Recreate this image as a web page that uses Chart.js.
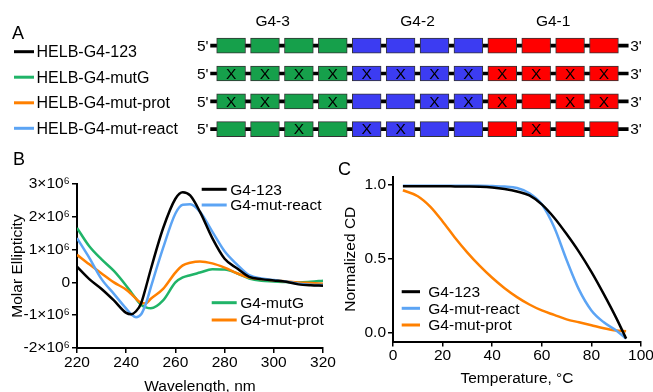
<!DOCTYPE html>
<html>
<head>
<meta charset="utf-8">
<script src="https://cdn.jsdelivr.net/npm/chart.js@4.4.0/dist/chart.umd.min.js"></script>
<style>
  body { margin: 0; background: #fff; overflow: hidden; width: 653px; height: 392px; position: relative; font-family: 'Liberation Sans', Arial, sans-serif; }
  canvas { position: absolute; }
  .tag { position: absolute; font-size: 18px; line-height: 1; color: #000; }
</style>
</head>
<body>
<canvas id="schemeA" width="653" height="143" style="left:0px;top:0px"></canvas>
<canvas id="cdB" width="345" height="260" style="left:0px;top:140px"></canvas>
<canvas id="meltC" width="330" height="252" style="left:330px;top:140px"></canvas>
<div class="tag" style="left:12px;top:24px">A</div>
<div class="tag" style="left:13px;top:150px">B</div>
<div class="tag" style="left:338px;top:160px">C</div>
<script>
const FONT = "'Liberation Sans', Arial, sans-serif"
Chart.defaults.font.family = FONT
Chart.defaults.color = '#000'

// ---- panel A: constructs
const constructs = ['HELB-G4-123', 'HELB-G4-mutG', 'HELB-G4-mut-prot', 'HELB-G4-mut-react']
const constructColors = ['#000000', '#20b468', '#ff8000', '#5ca4f4']
const groups = ['G4-3', 'G4-2', 'G4-1']
const groupColors = ['#16a04b', '#3c3cf2', '#ff0000']
const groupHeaderPos = [1.65, 5.925, 9.925]
const boxStart = [0, 1, 2, 3, 4, 5, 6, 7, 8, 9, 10, 11]
const boxLen = 0.85
const backbone = [-0.18, 12.14]
// 1 = mutated G-tract (X), 5' -> 3'
const mut123 = [0, 0, 0, 0, 0, 0, 0, 0, 0, 0, 0, 0]
const mutG = [1, 1, 1, 1, 1, 1, 1, 1, 1, 1, 1, 1]
const mutProt = [1, 1, 0, 1, 0, 0, 1, 1, 1, 0, 1, 1]
const mutReact = [0, 0, 1, 0, 1, 1, 0, 0, 0, 1, 0, 0]
const mutations = [mut123, mutG, mutProt, mutReact]

// ---- panel B: CD spectra (x10^6)
const wavelength = [220, 225, 230, 235, 240, 242, 244, 246, 248, 250, 255, 260, 263, 266, 270, 275, 280, 285, 290, 295, 300, 305, 310, 315, 320]
const cd123 = [0.48, 0.10, -0.20, -0.55, -0.93, -0.97, -0.88, -0.65, -0.15, 0.40, 1.65, 2.55, 2.75, 2.65, 2.15, 1.35, 0.72, 0.43, 0.17, 0.10, 0.06, 0.02, -0.06, -0.09, -0.10]
const cdReact = [1.35, 0.75, 0.10, -0.35, -0.80, -0.97, -1.06, -0.98, -0.65, -0.15, 1.05, 2.10, 2.37, 2.38, 2.15, 1.55, 0.95, 0.55, 0.22, 0.12, 0.07, 0.03, -0.04, -0.07, -0.08]
const cdMutG = [1.66, 1.10, 0.70, 0.35, -0.10, -0.30, -0.50, -0.68, -0.76, -0.79, -0.55, 0.00, 0.15, 0.22, 0.30, 0.40, 0.39, 0.28, 0.12, 0.05, 0.03, 0.01, 0.00, 0.02, 0.05]
const cdProt = [0.84, 0.55, 0.27, 0.00, -0.22, -0.35, -0.50, -0.62, -0.64, -0.50, -0.20, 0.30, 0.52, 0.60, 0.64, 0.58, 0.45, 0.28, 0.15, 0.10, 0.06, 0.03, 0.00, -0.02, -0.04]
const cdTicks = [-2, -1, 0, 1, 2, 3]
const wlTicks = [220, 240, 260, 280, 300, 320]

// ---- panel C: melting curves
const temperature = [4, 10, 15, 20, 25, 30, 35, 40, 45, 50, 55, 60, 65, 70, 75, 80, 85, 90, 94]
const melt123 = [0.987, 0.987, 0.987, 0.987, 0.986, 0.985, 0.983, 0.978, 0.968, 0.952, 0.925, 0.865, 0.775, 0.665, 0.545, 0.41, 0.26, 0.10, -0.04]
const meltReact = [0.99, 0.99, 0.99, 0.99, 0.99, 0.99, 0.99, 0.988, 0.985, 0.975, 0.94, 0.865, 0.71, 0.49, 0.29, 0.15, 0.07, 0.015, -0.04]
const meltProt = [0.96, 0.92, 0.85, 0.75, 0.64, 0.54, 0.45, 0.37, 0.30, 0.24, 0.19, 0.15, 0.12, 0.09, 0.07, 0.05, 0.03, 0.015, 0.01]
const normTicks = [0, 0.5, 1]
const tempTicks = [0, 20, 40, 60, 80, 100]

const xy = (xs, ys) => xs.map((x, i) => ({ x, y: ys[i] }))

// legend drawn at fixed spots, text + colour taken from the datasets
const keyPlugin = {
    id: 'key',
    afterDraw(chart, args, opts) {
        const { ctx } = chart
        ctx.save()
        ctx.font = `${opts.size}px ${FONT}`
        ctx.textBaseline = 'middle'
        ctx.textAlign = 'left'
        for (const it of opts.items) {
            const ds = chart.data.datasets[it.ds]
            ctx.strokeStyle = ds.borderColor
            ctx.lineWidth = 3
            ctx.beginPath()
            ctx.moveTo(it.x, it.y)
            ctx.lineTo(it.x + opts.len, it.y)
            ctx.stroke()
            ctx.fillStyle = '#000'
            ctx.fillText(ds.label, it.x + opts.len + opts.gap, it.y + 1)
        }
        ctx.restore()
    }
}

// ---- A
const schemePlugin = {
    id: 'scheme',
    afterDatasetsDraw(chart) {
        const { ctx, scales: { x, y } } = chart
        ctx.save()
        ctx.fillStyle = '#000'
        ctx.textBaseline = 'middle'
        ctx.font = `15.5px ${FONT}`
        constructs.forEach((name, r) => {
            const yc = y.getPixelForValue(r)
            ctx.textAlign = 'right'
            ctx.fillText("5'", x.getPixelForValue(backbone[0]) - 2, yc + 1)
            ctx.textAlign = 'left'
            ctx.fillText("3'", x.getPixelForValue(backbone[1]) + 2, yc + 1)
            ctx.textAlign = 'center'
            mutations[r].forEach((m, i) => {
                if (!m) return
                const el = chart.getDatasetMeta(i).data[r]
                ctx.fillText('X', (el.x + el.base) / 2, el.y + 1)
            })
        })
        ctx.textAlign = 'center'
        groups.forEach((g, k) => ctx.fillText(g, x.getPixelForValue(groupHeaderPos[k]), 22))
        // construct key on the left
        const keyY = [51.7, 77.2, 102.8, 128.3]
        ctx.textAlign = 'left'
        ctx.font = `16px ${FONT}`
        constructs.forEach((name, r) => {
            ctx.strokeStyle = constructColors[r]
            ctx.lineWidth = 3
            ctx.beginPath()
            ctx.moveTo(14, keyY[r])
            ctx.lineTo(34, keyY[r])
            ctx.stroke()
            ctx.fillText(name, 36.5, keyY[r] + 1)
        })
        ctx.restore()
    }
}

const boxSets = boxStart.map((s, i) => ({
    data: constructs.map(() => [s, s + boxLen]),
    backgroundColor: groupColors[Math.floor(i / 4)],
    borderColor: '#333',
    borderWidth: 1,
    borderSkipped: false,
    barThickness: 15,
    grouped: false
}))

new Chart(document.getElementById('schemeA'), {
    type: 'bar',
    data: {
        labels: constructs,
        datasets: [
            ...boxSets,
            {
                data: constructs.map(() => backbone),
                backgroundColor: '#000',
                borderWidth: 0,
                barThickness: 3,
                grouped: false,
                order: 1
            }
        ]
    },
    options: {
        indexAxis: 'y',
        animation: false,
        responsive: false,
        layout: { padding: { top: 31.8, left: 0, right: 0, bottom: 0 } },
        scales: {
            x: { type: 'linear', display: false, min: -6.392, max: 12.871 },
            y: { type: 'category', display: false }
        },
        plugins: { legend: { display: false }, tooltip: { enabled: false } }
    },
    plugins: [schemePlugin]
})

// ---- shared axis look
const axisLook = (ticks, fmt, fit, pad) => ({
    type: 'linear',
    border: { display: true, color: '#000', width: 2 },
    grid: { drawOnChartArea: false, drawTicks: true, tickLength: 5, color: '#000', lineWidth: 1.5 },
    ticks: { font: { size: 15.5 }, color: '#000', padding: pad, callback: fmt },
    afterBuildTicks: s => { s.ticks = ticks.map(v => ({ value: v })) },
    afterFit: fit
})

const line = (label, color, pts) => ({
    label, data: pts, borderColor: color, borderWidth: 2.5,
    pointRadius: 0, fill: false, cubicInterpolationMode: 'monotone'
})

// ---- B
new Chart(document.getElementById('cdB'), {
    type: 'line',
    data: {
        datasets: [
            line('G4-123', '#000000', xy(wavelength, cd123)),
            line('G4-mut-react', '#5ca4f4', xy(wavelength, cdReact)),
            line('G4-mut-prot', '#ff8000', xy(wavelength, cdProt)),
            line('G4-mutG', '#20b468', xy(wavelength, cdMutG))
        ]
    },
    options: {
        animation: false,
        responsive: false,
        layout: { padding: { top: 44, left: 0, right: 22, bottom: 0 } },
        scales: {
            x: {
                ...axisLook(wlTicks, v => v, s => { s.height = 52 }, 0),
                min: 220, max: 320,
                title: { display: true, text: 'Wavelength, nm', font: { size: 15.5 }, padding: { top: 0, bottom: 4 } }
            },
            y: {
                ...axisLook(cdTicks, v => v === 0 ? '0' : `${v}×10⁶`, s => { s.width = 77 }, 2),
                min: -2, max: 3,
                title: { display: true, text: 'Molar Ellipticity', font: { size: 15.5 }, padding: { top: 8, bottom: 0 } }
            }
        },
        plugins: {
            legend: { display: false },
            tooltip: { enabled: false },
            key: {
                size: 15.5, len: 25, gap: 3.5,
                items: [
                    { ds: 0, x: 201.7, y: 49.3 },
                    { ds: 1, x: 201.7, y: 65 },
                    { ds: 3, x: 211.7, y: 162.7 },
                    { ds: 2, x: 211.7, y: 180 }
                ]
            }
        }
    },
    plugins: [keyPlugin]
})

// ---- C
new Chart(document.getElementById('meltC'), {
    type: 'line',
    data: {
        datasets: [
            line('G4-123', '#000000', xy(temperature, melt123)),
            line('G4-mut-react', '#5ca4f4', xy(temperature, meltReact)),
            line('G4-mut-prot', '#ff8000', xy(temperature, meltProt))
        ]
    },
    options: {
        animation: false,
        responsive: false,
        layout: { padding: { top: 36.9, left: 0, right: 19, bottom: 0 } },
        scales: {
            x: {
                ...axisLook(tempTicks, v => v, s => { s.height = 50.4 }, 0),
                min: 0, max: 100,
                title: { display: true, text: 'Temperature, °C', font: { size: 15.5 }, padding: { top: 0, bottom: 4 } }
            },
            y: {
                ...axisLook(normTicks, v => v.toFixed(1), s => { s.width = 63 }, 2),
                min: -0.06, max: 1.05,
                title: { display: true, text: 'Normalized CD', font: { size: 15.5 }, padding: { top: 11, bottom: 0 } }
            }
        },
        plugins: {
            legend: { display: false },
            tooltip: { enabled: false },
            key: {
                size: 15.5, len: 18.3, gap: 8.3,
                items: [
                    { ds: 0, x: 71.7, y: 151.7 },
                    { ds: 1, x: 71.7, y: 168.3 },
                    { ds: 2, x: 71.7, y: 185 }
                ]
            }
        }
    },
    plugins: [keyPlugin]
})
</script>
</body>
</html>
